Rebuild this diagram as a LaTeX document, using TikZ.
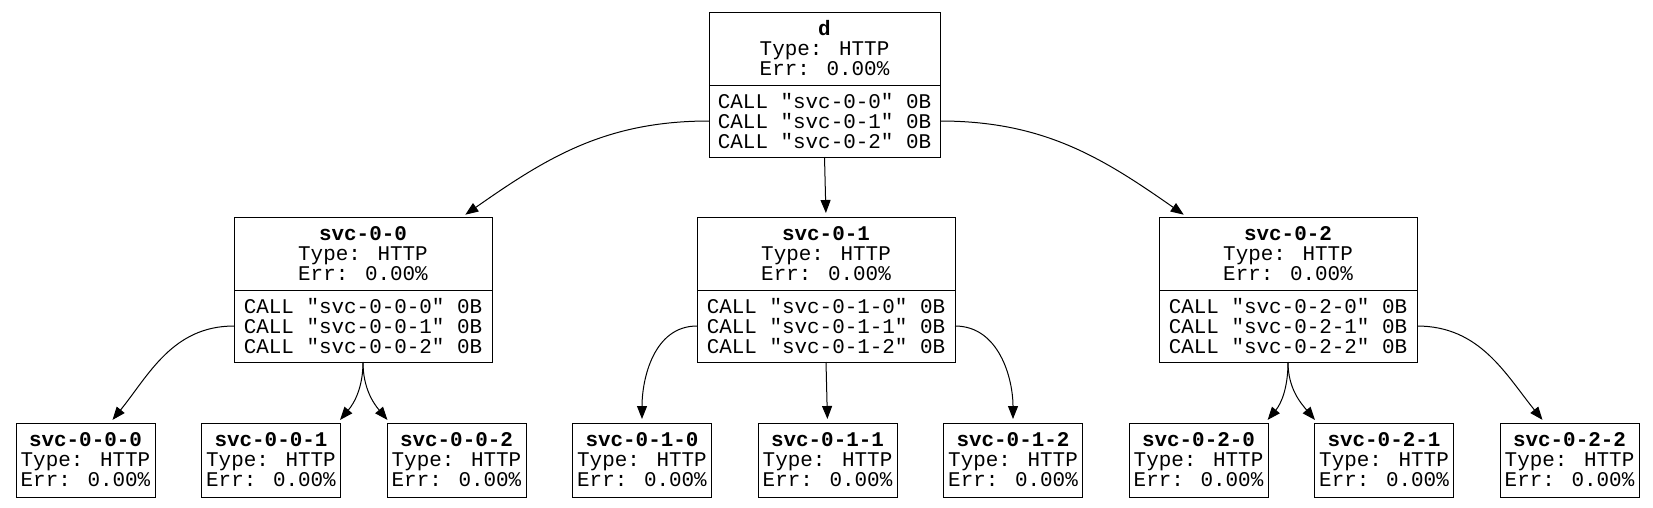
\documentclass[tikz,border=0pt]{standalone}
\usepackage{fontspec}
\usepackage{tikz}
\usetikzlibrary{arrows.meta,positioning}
\newfontfamily\mono{Liberation Mono}

\begin{document}
\begin{tikzpicture}[x=1pt,y=1pt,node distance=46.5pt,every node/.style={font=\fontsize{20.9}{20}\selectfont\mono,outer sep=0pt,line width=1pt}]
\tikzstyle{svc}=[draw,align=center,minimum height=73pt,inner sep=2pt]
\tikzstyle{calls}=[draw,align=left,minimum height=72pt,inner sep=2pt]
\tikzstyle{leaf}=[draw,align=center,minimum width=139pt,minimum height=74pt,inner sep=2pt]
\tikzstyle{link}=[-{Triangle[length=13pt,width=10pt]},line width=1pt,shorten >=4pt]
\useasboundingbox (0,0) rectangle (1653,-507);
% root
\node[svc,minimum width=231pt](d) at (824.5,-48.5){\textbf{d}\\Type: HTTP\\Err: 0.00\%};
\node[calls,minimum width=231pt,below=0pt of d](dcalls){CALL "svc-0-0" 0B\\CALL "svc-0-1" 0B\\CALL "svc-0-2" 0B};
% second level
\node[svc,minimum width=258pt](s00) at (363,-253.5){\textbf{svc-0-0}\\Type: HTTP\\Err: 0.00\%};
\node[calls,minimum width=258pt,below=0pt of s00](s00calls){CALL "svc-0-0-0" 0B\\CALL "svc-0-0-1" 0B\\CALL "svc-0-0-2" 0B};
\node[svc,minimum width=258pt](s01) at (826,-253.5){\textbf{svc-0-1}\\Type: HTTP\\Err: 0.00\%};
\node[calls,minimum width=258pt,below=0pt of s01](s01calls){CALL "svc-0-1-0" 0B\\CALL "svc-0-1-1" 0B\\CALL "svc-0-1-2" 0B};
\node[svc,minimum width=258pt](s02) at (1288,-253.5){\textbf{svc-0-2}\\Type: HTTP\\Err: 0.00\%};
\node[calls,minimum width=258pt,below=0pt of s02](s02calls){CALL "svc-0-2-0" 0B\\CALL "svc-0-2-1" 0B\\CALL "svc-0-2-2" 0B};
% leaves
\node[leaf](s000) at (85.5,-460){\textbf{svc-0-0-0}\\Type: HTTP\\Err: 0.00\%};
\node[leaf,right=of s000](s001){\textbf{svc-0-0-1}\\Type: HTTP\\Err: 0.00\%};
\node[leaf,right=of s001](s002){\textbf{svc-0-0-2}\\Type: HTTP\\Err: 0.00\%};
\node[leaf,right=of s002](s010){\textbf{svc-0-1-0}\\Type: HTTP\\Err: 0.00\%};
\node[leaf,right=of s010](s011){\textbf{svc-0-1-1}\\Type: HTTP\\Err: 0.00\%};
\node[leaf,right=of s011](s012){\textbf{svc-0-1-2}\\Type: HTTP\\Err: 0.00\%};
\node[leaf,right=of s012](s020){\textbf{svc-0-2-0}\\Type: HTTP\\Err: 0.00\%};
\node[leaf,right=of s020](s021){\textbf{svc-0-2-1}\\Type: HTTP\\Err: 0.00\%};
\node[leaf,right=of s021](s022){\textbf{svc-0-2-2}\\Type: HTTP\\Err: 0.00\%};
% edges
\draw[link](dcalls.west) to[out=180,in=35] ([xshift=-30pt]s00.north east);
\draw[link](dcalls.south) -- (s01.north);
\draw[link](dcalls.east) to[out=0,in=145] ([xshift=28pt]s02.north west);
\draw[link](s00calls.west) to[out=180,in=51] ([xshift=24.5pt]s000.north);
\draw[link](s00calls.south) to[out=-90,in=50] ([xshift=-3pt]s001.north east);
\draw[link](s00calls.south) to[out=-90,in=130] ([xshift=3pt]s002.north west);
\draw[link](s01calls.west) to[out=180,in=90] (s010.north);
\draw[link](s01calls.south) -- (s011.north);
\draw[link](s01calls.east) to[out=0,in=90] (s012.north);
\draw[link](s02calls.south) to[out=-90,in=50] ([xshift=-3pt]s020.north east);
\draw[link](s02calls.south) to[out=-90,in=130] ([xshift=3pt]s021.north west);
\draw[link](s02calls.east) to[out=0,in=129] ([xshift=-24.5pt]s022.north);
\end{tikzpicture}
\end{document}
